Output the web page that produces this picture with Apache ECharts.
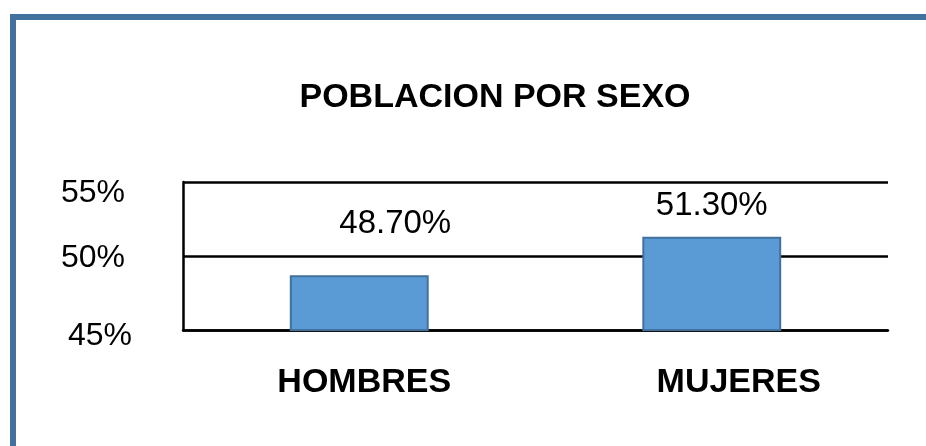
<!DOCTYPE html>
<html>
<head>
<meta charset="utf-8">
<script src="https://cdn.jsdelivr.net/npm/echarts@6/dist/echarts.min.js"></script>
<style>
  html, body { margin: 0; padding: 0; background: #fff; }
  #chart { width: 926px; height: 446px; }
</style>
</head>
<body>
<div id="chart"></div>
<script>
var titleText = 'POBLACION POR SEXO';
var categories = ['HOMBRES', 'MUJERES'];
var values = [48.7, 51.3];
var yMin = 45, yMax = 55, yStep = 5;

var font = "'Liberation Sans', Arial, sans-serif";

// label nudges to follow the original picture
var labelOffsets = [[36, -30], [0, -9]];

var chart = echarts.init(document.getElementById('chart'));

// [tick, top pad, right pad]
var yRich = {};
[[45, 12, 0], [50, 4, 7], [55, 22, 7]].forEach(function (p) {
    yRich['v' + p[0]] = {
        fontFamily: font,
        fontSize: 32,
        color: '#000',
        padding: [p[1], p[2], 0, 0]
    };
});

var option = {
    animation: false,
    backgroundColor: '#fff',
    title: {
        text: titleText,
        left: 490,
        top: 76,
        textAlign: 'center',
        textStyle: {
            fontFamily: font,
            fontSize: 34,
            fontWeight: 'bold',
            color: '#000'
        }
    },
    graphic: [
        {
            type: 'rect',
            shape: {x: 13, y: 17, width: 1000, height: 1000},
            style: {fill: 'none', stroke: '#41719C', lineWidth: 6},
            silent: true
        }
    ],
    grid: {
        left: 183,
        right: 38,
        top: 182,
        bottom: 116
    },
    xAxis: {
        type: 'category',
        data: categories,
        axisTick: {show: false},
        axisLine: {show: true, lineStyle: {color: '#000', width: 2.5}},
        axisLabel: {
            margin: 36,
            formatter: function (v, i) {
                return '{c' + i + '|' + v + '}';
            },
            rich: {
                c0: {fontFamily: font, fontSize: 34, fontWeight: 'bold', color: '#000', lineHeight: 34, padding: [0, 0, 0, 10]},
                c1: {fontFamily: font, fontSize: 34, fontWeight: 'bold', color: '#000', lineHeight: 34, padding: [0, 0, 0, 54]}
            }
        }
    },
    yAxis: {
        type: 'value',
        min: yMin,
        max: yMax,
        interval: yStep,
        axisTick: {show: false},
        axisLine: {show: true, lineStyle: {color: '#000', width: 2.5}},
        splitLine: {show: true, lineStyle: {color: '#000', width: 2.5}},
        axisLabel: {
            margin: 51,
            formatter: function (v) { return '{v' + v + '|' + v + '%}'; },
            rich: yRich
        }
    },
    series: [
        {
            type: 'bar',
            barWidth: '39.4%',
            data: values.map(function (v, i) {
                return {
                    value: v,
                    label: {offset: labelOffsets[i]}
                };
            }),
            itemStyle: {
                color: '#5B9BD5',
                borderColor: '#41719C',
                borderWidth: 2
            },
            label: {
                show: true,
                position: 'top',
                distance: 5,
                fontFamily: font,
                fontSize: 33,
                color: '#000',
                formatter: function (p) { return p.value.toFixed(2) + '%'; }
            }
        }
    ]
};

chart.setOption(option);
</script>
</body>
</html>
